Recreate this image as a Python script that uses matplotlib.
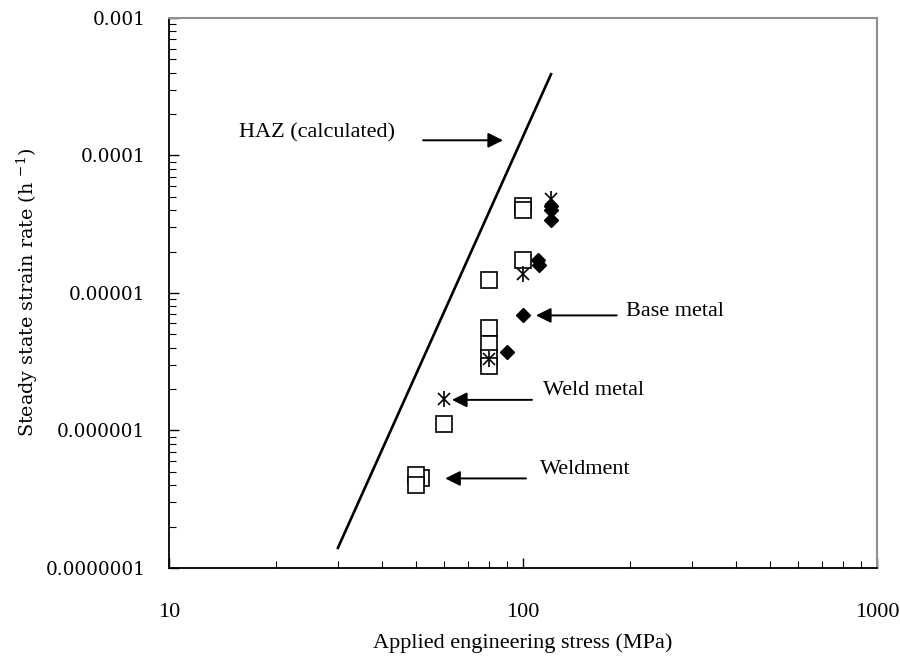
import numpy as np
import matplotlib.pyplot as plt
from matplotlib.ticker import NullFormatter, LogLocator

plt.rcParams['font.family'] = ['Liberation Serif', 'DejaVu Serif']
plt.rcParams['mathtext.fontset'] = 'custom'
plt.rcParams['mathtext.rm'] = 'DejaVu Serif'

# weldment / open squares
sq_stress = [100, 100, 100, 80, 80, 80, 80, 80, 60, 51.4, 50, 50]
sq_rate = [4.3e-5, 4.0e-5, 1.74e-5, 1.24e-5, 5.6e-6, 4.25e-6, 3.36e-6, 2.94e-6, 1.11e-6, 4.48e-7, 4.71e-7, 4.01e-7]

# base metal / filled diamonds
bm_stress = [120, 120, 120, 110, 111, 100, 90]
bm_rate = [4.3e-5, 4.0e-5, 3.4e-5, 1.75e-5, 1.6e-5, 6.95e-6, 3.7e-6]

# weld metal / asterisks
wm_stress = [120, 100, 80, 60]
wm_rate = [4.85e-5, 1.37e-5, 3.3e-6, 1.69e-6]

# HAZ (calculated) line end points
haz_stress = [30, 120]
haz_rate = [1.4e-7, 3.9e-4]

fig = plt.figure(figsize=(9, 6.57), dpi=100)
ax = fig.add_axes([0.1878, 0.1355, 0.7866, 0.8371])

ax.plot(haz_stress, haz_rate, color='black', lw=1.9, zorder=2)
ax.plot(sq_stress, sq_rate, ls='none', marker='s', ms=11, mfc='white', mec='black', mew=1.2, zorder=3)
ax.plot(bm_stress, bm_rate, ls='none', marker='D', ms=7.5, mfc='black', mec='black', zorder=4)
ax.plot(wm_stress, wm_rate, ls='none', marker='x', ms=9, mec='black', mew=1.2, zorder=5)
ax.plot(wm_stress, wm_rate, ls='none', marker='|', ms=11, mec='black', mew=1.2, zorder=5)

ax.set_xscale('log')
ax.set_yscale('log')
ax.set_xlim(10, 1000)
ax.set_ylim(1e-7, 1e-3)

ax.set_xticks([10, 100, 1000])
ax.set_xticklabels(['10', '100', '1000'])
ax.set_yticks([1e-7, 1e-6, 1e-5, 1e-4, 1e-3])
ax.set_yticklabels(['0.0000001', '0.000001', '0.00001', '0.0001', '0.001'],
                   family='DejaVu Serif', fontsize=13.3)
ax.xaxis.set_minor_locator(LogLocator(base=10, subs=np.arange(2, 10)))
ax.yaxis.set_minor_locator(LogLocator(base=10, subs=np.arange(2, 10)))
ax.xaxis.set_minor_formatter(NullFormatter())
ax.yaxis.set_minor_formatter(NullFormatter())

ax.tick_params(which='both', direction='in', top=False, right=False)
ax.tick_params(axis='x', labelsize=16, pad=25)
ax.tick_params(which='major', length=7, width=1)
ax.tick_params(which='minor', length=5, width=0.8)
ax.tick_params(axis='y', pad=17)

for s in ['top', 'right']:
    ax.spines[s].set_color('#909090')
    ax.spines[s].set_linewidth(1.5)
for s in ['left', 'bottom']:
    ax.spines[s].set_linewidth(1.3)

ax.set_xlabel('Applied engineering stress (MPa)', fontsize=16, labelpad=8)
ax.set_ylabel('Steady state strain rate (h $^{\\mathregular{-1}}$)', family='DejaVu Serif',
              fontsize=13.8, labelpad=4)

# arrows with filled heads, like the original
arrow = dict(arrowstyle='-|>,head_length=0.6,head_width=0.3', color='black', lw=1.4,
             mutation_scale=15, shrinkA=0, shrinkB=0)
ax.annotate('', xy=(87.8, 1.29e-4), xytext=(52.2, 1.29e-4), arrowprops=arrow)
ax.text(43.5, 1.45e-4, 'HAZ (calculated)', fontsize=16, ha='right', va='center')

ax.annotate('', xy=(108.8, 6.87e-6), xytext=(184, 6.87e-6), arrowprops=arrow)
ax.text(195, 7.3e-6, 'Base metal', fontsize=16, ha='left', va='center')

ax.annotate('', xy=(63, 1.67e-6), xytext=(106, 1.67e-6), arrowprops=arrow)
ax.text(113.9, 1.96e-6, 'Weld metal', fontsize=16, ha='left', va='center')

ax.annotate('', xy=(60.3, 4.48e-7), xytext=(102, 4.48e-7), arrowprops=arrow)
ax.text(111.7, 5.2e-7, 'Weldment', fontsize=16, ha='left', va='center')

fig.savefig('out.png', dpi=100)
